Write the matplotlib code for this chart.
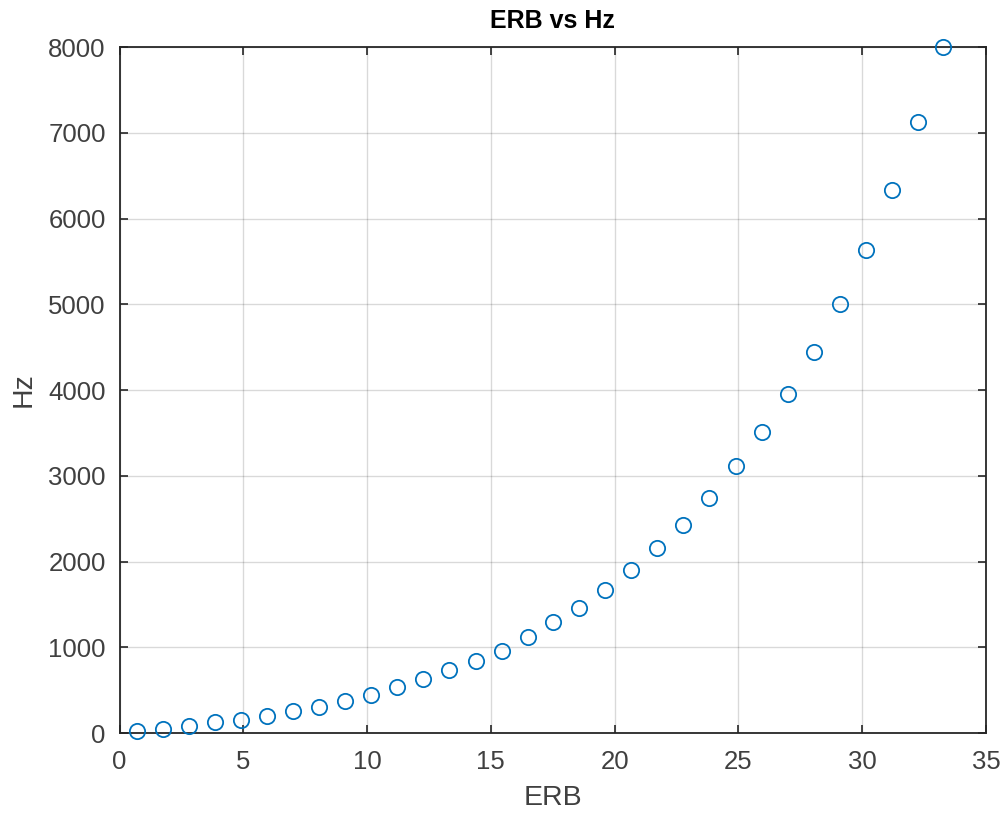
import numpy as np
import matplotlib
matplotlib.use('Agg')
import matplotlib.pyplot as plt

plt.rcParams['font.family'] = ['Liberation Sans', 'DejaVu Sans']

# ERB values and the matching frequencies
erb = [0.71, 1.77, 2.80, 3.87, 4.92, 5.97, 7.02, 8.07, 9.12, 10.17,
       11.22, 12.27, 13.32, 14.38, 15.43, 16.49, 17.52, 18.57, 19.62, 20.68,
       21.72, 22.78, 23.83, 24.90, 25.95, 27.00, 28.04, 29.09, 30.14, 31.19,
       32.24, 33.28]
hz = [20, 45, 78, 125, 150, 195, 260, 307, 377, 447,
      536, 630, 731, 843, 960, 1123, 1290, 1454, 1664, 1897,
      2154, 2429, 2737, 3114, 3515, 3953, 4440, 4999, 5633, 6329,
      7125, 8000]

xticks = [0, 5, 10, 15, 20, 25, 30, 35]
yticks = [0, 1000, 2000, 3000, 4000, 5000, 6000, 7000, 8000]

dark = '#262626'

fig = plt.figure(figsize=(10.05, 8.15), dpi=100)
ax = fig.add_axes([0.119, 0.1006, 0.862, 0.8416])

ax.plot(erb, hz, linestyle='none', marker='o', markersize=11,
        markerfacecolor='none', markeredgecolor='#0072BD', markeredgewidth=1.3,
        clip_on=False, zorder=3)

ax.set_xlim(0, 35)
ax.set_ylim(0, 8000)
ax.set_xticks(xticks)
ax.set_yticks(yticks)
ax.grid(True, color='#000000', alpha=0.15, linewidth=1)
ax.set_axisbelow(True)

ax.tick_params(direction='in', length=6, width=1.2, colors=dark,
               labelcolor='#404040', labelsize=18.5, top=True, right=True)
ax.tick_params(axis='x', pad=12)
ax.tick_params(axis='y', pad=10)
for s in ax.spines.values():
    s.set_color(dark)
    s.set_linewidth(1.3)

ax.set_title('ERB vs Hz', fontsize=18, fontweight='bold', color='black', pad=14)
ax.set_xlabel('ERB', fontsize=20.5, color='#404040', labelpad=8)
ax.set_ylabel('Hz', fontsize=20.5, color='#404040', labelpad=8)

fig.savefig('out.png', dpi=100, facecolor='white')
